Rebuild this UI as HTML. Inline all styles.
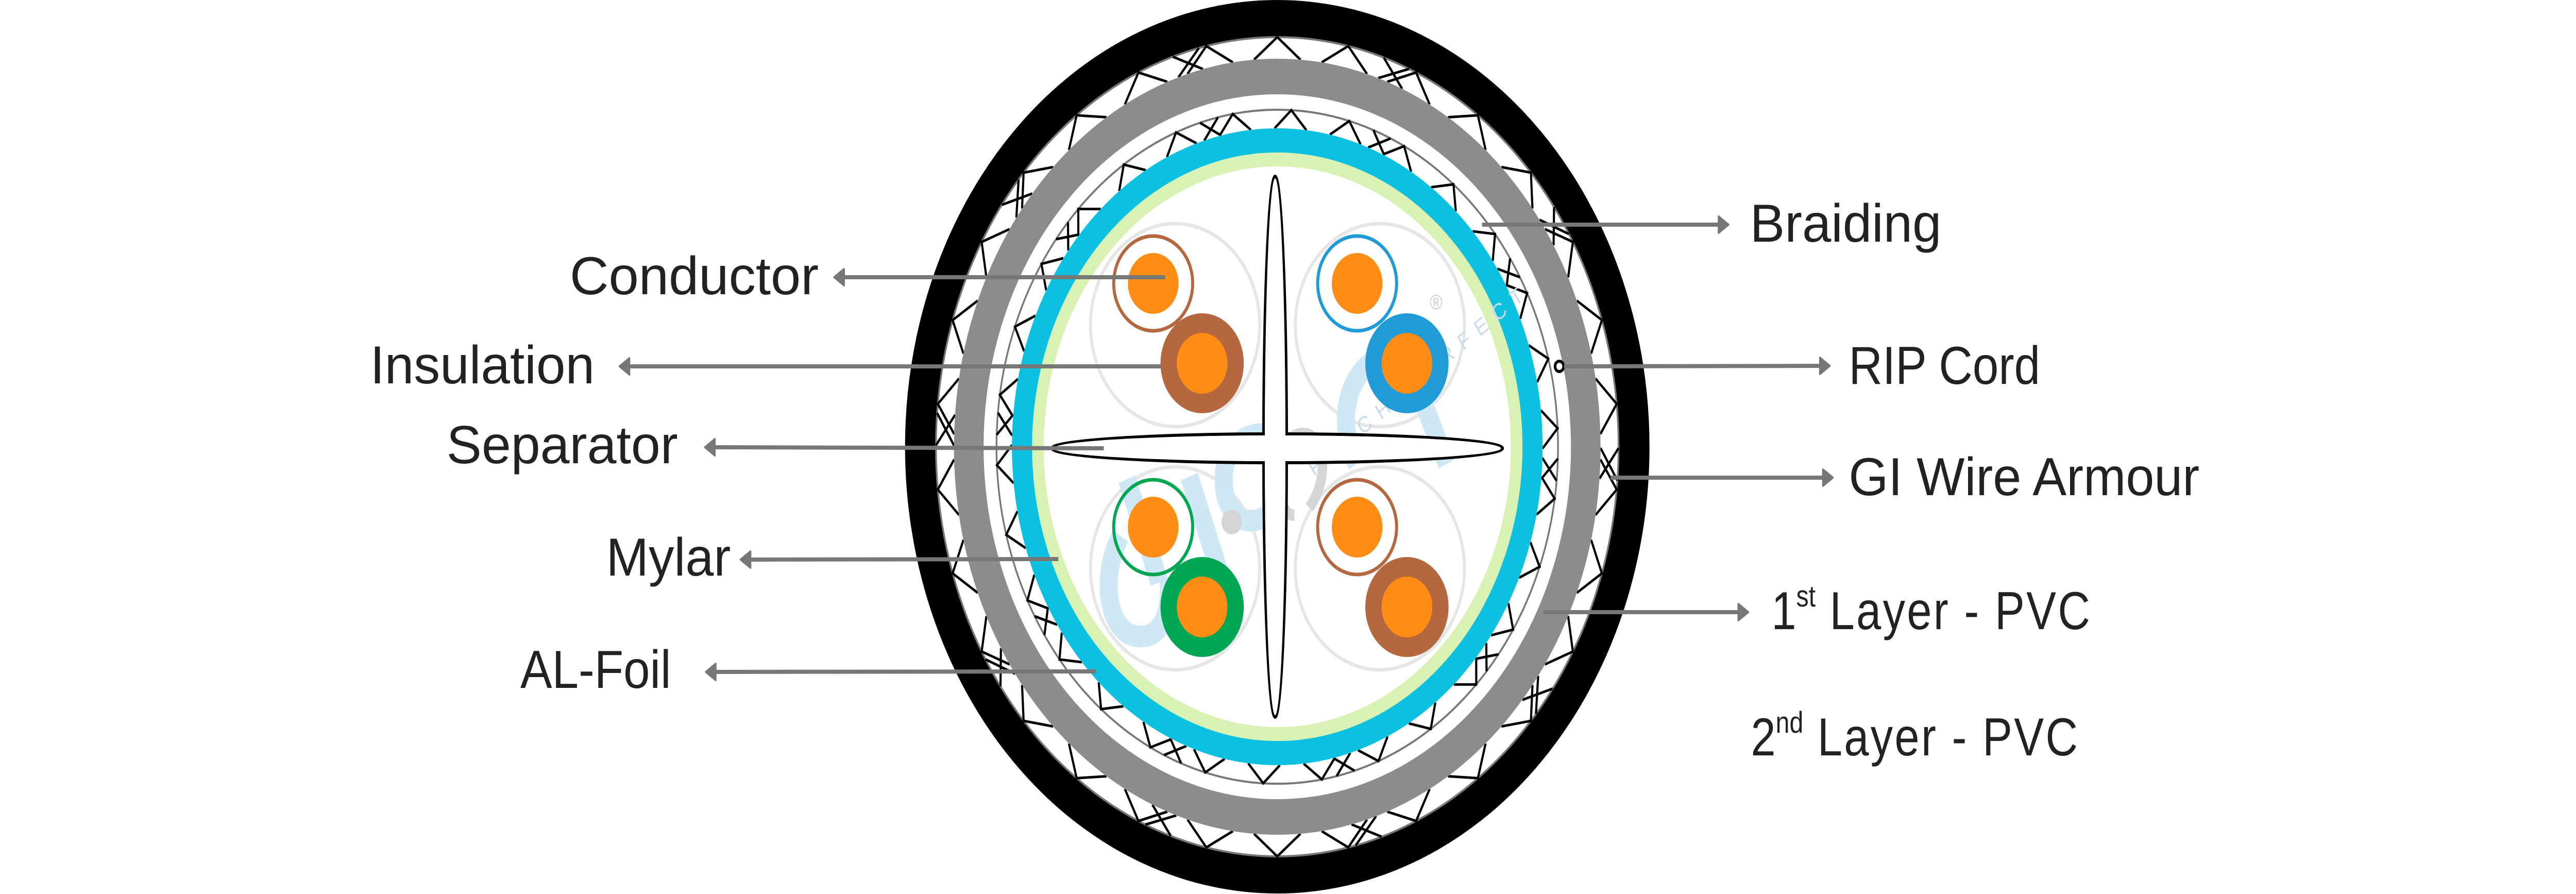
<!DOCTYPE html>
<html><head><meta charset="utf-8">
<style>
html,body{margin:0;padding:0;background:#fff;width:100%;height:100%;overflow:hidden;}
svg{display:block;width:100vw;height:100vh;}
text{font-family:"Liberation Sans",sans-serif;fill:#222;}
</style></head>
<body>
<svg id="s" viewBox="0 0 6000 1735" preserveAspectRatio="none" xmlns="http://www.w3.org/2000/svg">
<rect width="6000" height="1735" fill="#fff"/>
<circle cx="2975" cy="867" r="831.5" fill="none" stroke="#000" stroke-width="71"/>
<circle cx="2975" cy="867" r="795" fill="#fff" stroke="#777" stroke-width="4"/>
<g id="braid1" stroke="#000" stroke-width="5" fill="none"></g>
<circle cx="2975" cy="867" r="718.5" fill="none" stroke="#8c8c8c" stroke-width="69"/>
<circle cx="2975" cy="867" r="654" fill="#fff" stroke="#777" stroke-width="4"/>
<g id="braid2" stroke="#000" stroke-width="5" fill="none"></g>
<circle cx="2975" cy="867" r="594.5" fill="none" stroke="#0cc0df" stroke-width="47"/>
<circle cx="2975" cy="867" r="557.5" fill="#fff" stroke="#d9f2b4" stroke-width="27"/>
<g fill="none" stroke="#e6e6e6" stroke-width="7">
<circle cx="2737" cy="631" r="197"/>
<circle cx="3214" cy="631" r="197"/>
<circle cx="2737" cy="1103" r="197"/>
<circle cx="3214" cy="1103" r="197"/>
</g>
<g fill="none" stroke="#cfe8f5" stroke-width="42" stroke-linecap="butt">
<path d="M2625,930 L2700,1130 M2770,925 L2840,1110"/>
<path d="M2610,1040 C2560,1120 2580,1230 2650,1235 C2710,1240 2730,1180 2720,1120"/>
<path d="M2975,845 C2900,830 2850,870 2850,930 C2850,1010 2920,1040 2985,975"/>
<path d="M3160,900 C3110,820 3140,730 3200,700 C3260,670 3290,720 3310,770 L3370,900"/>
</g>
<circle cx="2869" cy="1013" r="24" fill="#d5d5d8"/>
<path d="M3015,1000 C2980,1000 2965,930 2985,880 C3005,830 3060,830 3075,870 C3090,920 3070,960 3050,985" fill="none" stroke="#d5d5d8" stroke-width="22"/>
<text x="3060" y="925" transform="rotate(-35 3060 925)" font-size="44" letter-spacing="20" style="fill:#c9dcea">PATCH PERFECT</text>
<text x="3330" y="600" font-size="40" style="fill:#c9ccd2">®</text>
<g fill="#fff" stroke="#000" stroke-width="6">
<ellipse cx="2970" cy="867" rx="27" ry="525"/>
<ellipse cx="2975" cy="870" rx="525" ry="28"/>
</g>
<g fill="#fff">
<ellipse cx="2970" cy="867" rx="24" ry="521"/>
<ellipse cx="2975" cy="870" rx="521" ry="25"/>
</g>
<g>
<circle cx="2686" cy="550" r="92" fill="#fff" stroke="#b5683f" stroke-width="7"/>
<circle cx="2686" cy="550" r="59" fill="#ff8c14"/>
<circle cx="2800" cy="705" r="78" fill="#ff8c14" stroke="#b5683f" stroke-width="38"/>
<circle cx="3161" cy="550" r="92" fill="#fff" stroke="#209bd7" stroke-width="7"/>
<circle cx="3161" cy="550" r="59" fill="#ff8c14"/>
<circle cx="3277" cy="705" r="78" fill="#ff8c14" stroke="#209bd7" stroke-width="38"/>
<circle cx="2686" cy="1023" r="92" fill="none" stroke="#00a651" stroke-width="7"/>
<circle cx="2686" cy="1023" r="59" fill="#ff8c14"/>
<circle cx="2800" cy="1178" r="78" fill="#ff8c14" stroke="#00a651" stroke-width="38"/>
<circle cx="3161" cy="1023" r="92" fill="#fff" stroke="#b5683f" stroke-width="7"/>
<circle cx="3161" cy="1023" r="59" fill="#ff8c14"/>
<circle cx="3277" cy="1178" r="78" fill="#ff8c14" stroke="#b5683f" stroke-width="38"/>
</g>
<circle cx="3632" cy="711" r="10" fill="#fff" stroke="#000" stroke-width="6"/>
<g stroke="#777" stroke-width="8">
<line x1="2714" y1="538" x2="1955" y2="538"/>
<line x1="2705" y1="711" x2="1455" y2="711"/>
<line x1="2571" y1="870" x2="1654" y2="868"/>
<line x1="2465" y1="1085" x2="1737" y2="1086"/>
<line x1="2553" y1="1303" x2="1656" y2="1304"/>
<line x1="3452" y1="436" x2="4014" y2="436"/>
<line x1="3643" y1="711" x2="4250" y2="710"/>
<line x1="3751" y1="927" x2="4257" y2="927"/>
<line x1="3595" y1="1188" x2="4060" y2="1188"/>
</g>
<g fill="#777" stroke="#777" stroke-width="4" stroke-linejoin="round">
<polygon points="1943,538 1966,522 1966,554"/>
<polygon points="1443,711 1466,695 1466,727"/>
<polygon points="1642,868 1665,852 1665,884"/>
<polygon points="1725,1086 1748,1070 1748,1102"/>
<polygon points="1644,1304 1667,1288 1667,1320"/>
<polygon points="4026,436 4003,420 4003,452"/>
<polygon points="4262,710 4239,694 4239,726"/>
<polygon points="4269,927 4246,911 4246,943"/>
<polygon points="4072,1188 4049,1172 4049,1204"/>
</g>
<g font-size="104">
<text x="1327" y="571" textLength="580" lengthAdjust="spacingAndGlyphs">Conductor</text>
<text x="862" y="744" textLength="523" lengthAdjust="spacingAndGlyphs">Insulation</text>
<text x="1040" y="899" textLength="539" lengthAdjust="spacingAndGlyphs">Separator</text>
<text x="1412" y="1117" textLength="290" lengthAdjust="spacingAndGlyphs">Mylar</text>
<text x="1212" y="1335" textLength="351" lengthAdjust="spacingAndGlyphs">AL-Foil</text>
<text x="4076" y="469" textLength="446" lengthAdjust="spacingAndGlyphs">Braiding</text>
<text x="4306" y="745" textLength="446" lengthAdjust="spacingAndGlyphs">RIP Cord</text>
<text x="4306" y="961" textLength="817" lengthAdjust="spacingAndGlyphs">GI Wire Armour</text>
<text x="4126" y="1221">1<tspan font-size="58" dy="-44">st</tspan><tspan dy="44" letter-spacing="4"> Layer - PVC</tspan></text>
<text x="4078" y="1466">2<tspan font-size="58" dy="-44">nd</tspan><tspan dy="44" letter-spacing="4"> Layer - PVC</tspan></text>
</g>
</svg>
<script>
(function(){
var ns="http://www.w3.org/2000/svg",cx=2975,cy=867;
function p(r,a){return (cx+r*Math.sin(a)).toFixed(1)+","+(cy-r*Math.cos(a)).toFixed(1);}
function braid(id,rin,rout,N,d,off){
  var g=document.getElementById(id),s="";
  for(var k=0;k<N;k++){
    var t=off+k*2*Math.PI/N;
    s+="M"+p(rin,t-d)+"L"+p(rout,t)+"L"+p(rin,t+d);
    if(k%3==1){s+="M"+p(rout,t+d*1.5)+"L"+p(rin,t+d*2.6)+"M"+p(rin,t+d*1.5)+"L"+p(rout,t+d*2.6);}
  }
  var pa=document.createElementNS(ns,"path");pa.setAttribute("d",s);g.appendChild(pa);
}
braid("braid1",753,795,30,0.072,0);
braid("braid2",618,654,30,0.06,0.05);
})();
</script>
</body></html>
